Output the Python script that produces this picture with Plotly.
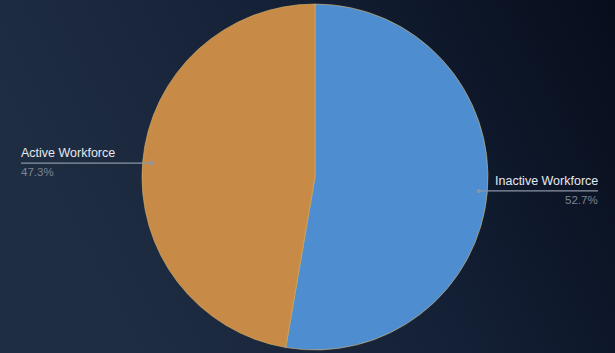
import math, base64
import plotly.graph_objects as go

labels = ["Inactive Workforce", "Active Workforce"]
values = [52.7, 47.3]
colors = ["#4E8ED0", "#C88B47"]

W, H = 615, 353
cx, cy, r = 315, 177, 173  # pixel centre (from top) and radius

svg = f'''<svg xmlns="http://www.w3.org/2000/svg" width="{W}" height="{H}">
<defs><linearGradient id="g" x1="0" y1="0.3" x2="1" y2="0">
<stop offset="0" stop-color="#1f2d42"/><stop offset="0.5" stop-color="#142036"/><stop offset="1" stop-color="#070d1b"/>
</linearGradient></defs><rect width="{W}" height="{H}" fill="url(#g)"/></svg>'''
bg = "data:image/svg+xml;base64," + base64.b64encode(svg.encode()).decode()

fig = go.Figure(go.Pie(
    labels=labels, values=values, sort=False, direction="clockwise", rotation=0,
    marker=dict(colors=colors, line=dict(color="#d9b46a", width=0.6)),
    textinfo="none", hoverinfo="label+percent", showlegend=False,
    domain=dict(x=[(cx - r) / W, (cx + r) / W], y=[(H - cy - r) / H, (H - cy + r) / H]),
))

shapes, annos = [], []
total = sum(values)
cum = 0
for lab, v in zip(labels, values):
    mid = (cum + v / 2) / total * 2 * math.pi
    cum += v
    px = cx + 0.95 * r * math.sin(mid)
    py = cy - 0.95 * r * math.cos(mid)
    right = math.sin(mid) > 0
    end = 598 if right else 21
    X = lambda x: x / W
    Y = lambda y: (H - y) / H
    shapes.append(dict(type="line", xref="paper", yref="paper", x0=X(px), x1=X(end), y0=Y(py), y1=Y(py),
                       line=dict(color="#8b95a6", width=1.2)))
    shapes.append(dict(type="circle", xref="paper", yref="paper", x0=X(px - 2), x1=X(px + 2), y0=Y(py - 2), y1=Y(py + 2),
                       fillcolor="#8b95a6", line=dict(width=0)))
    anchor = "right" if right else "left"
    annos.append(dict(xref="paper", yref="paper", x=X(end), y=Y(py - 1), text=lab, showarrow=False,
                      xanchor=anchor, yanchor="bottom", xshift=(2 if right else -2),
                      font=dict(color="#e6e9ef", size=12.5, family="Arial")))
    annos.append(dict(xref="paper", yref="paper", x=X(end), y=Y(py + 1), text=f"{v/total*100:.1f}%", showarrow=False,
                      xanchor=anchor, yanchor="top", xshift=(2 if right else -2),
                      font=dict(color="#7d8594", size=11.5, family="Arial")))

fig.update_layout(
    width=W, height=H, margin=dict(l=0, r=0, t=0, b=0),
    paper_bgcolor="#131e30", plot_bgcolor="rgba(0,0,0,0)",
    images=[dict(source=bg, xref="paper", yref="paper", x=0, y=1, sizex=1, sizey=1,
                 sizing="stretch", layer="below", xanchor="left", yanchor="top")],
    shapes=shapes, annotations=annos,
)
fig.write_html("out.html", config={"displayModeBar": False},
               post_script="document.body.style.margin='0';document.body.style.background='#131e30';")
